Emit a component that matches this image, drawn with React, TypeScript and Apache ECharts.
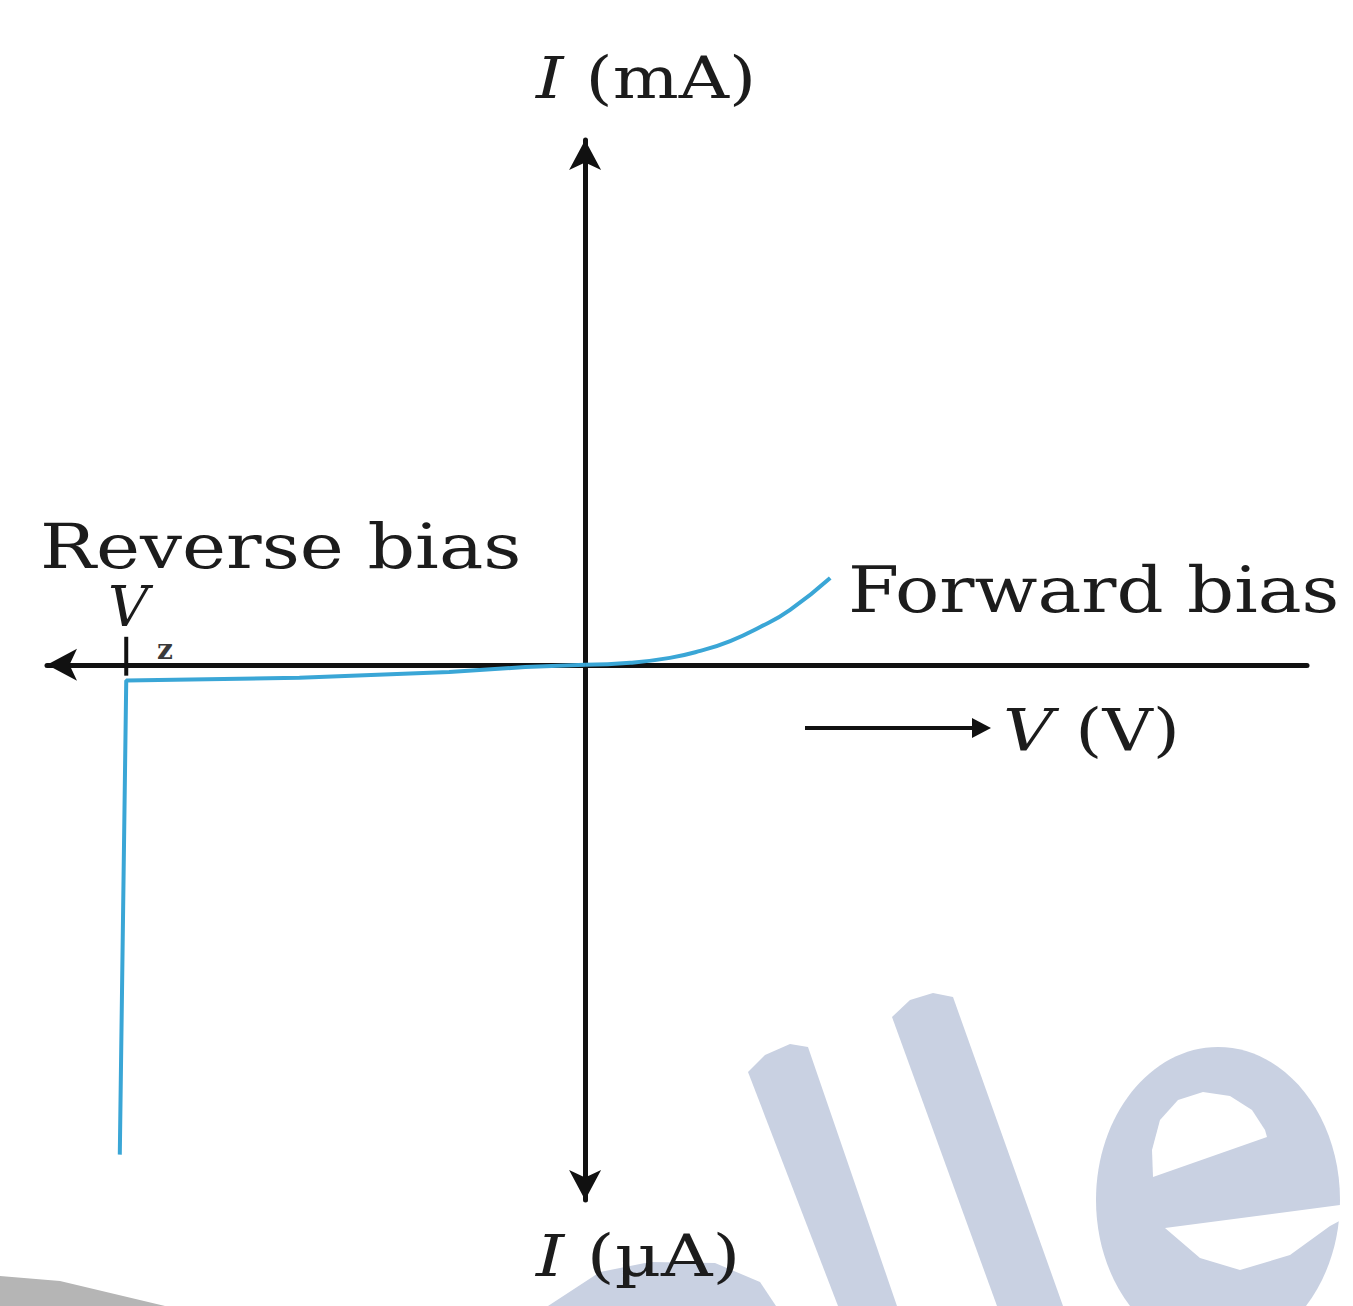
import React, { useEffect, useRef } from "react";
import * as echarts from "echarts";

// Reverse-bias branch (breakdown at Vz, small leakage current)
const reverseV = [-10.1, -9.96, -6.2, -2.95, -1.3, 0];
const reverseI = [-9.07, -0.29, -0.24, -0.13, -0.04, 0];
// Forward-bias branch
const forwardV = [0, 0.98, 1.84, 2.5, 3.15, 3.8, 4.45, 5.32];
const forwardI = [0, 0.04, 0.13, 0.26, 0.44, 0.7, 1.02, 1.61];
// Zener voltage marker
const zenerV = -9.96;
const zenerTickI = [0.52, -0.2];

const TEXT = "#1c1c1c";
const SERIF = "'DejaVu Serif', 'Liberation Serif', serif";
const WM = "#c9d1e2";

export default function App() {
  const ref = useRef<HTMLDivElement>(null);
  useEffect(() => {
    if (!ref.current) return;
    const chart = echarts.init(ref.current, null, { renderer: "svg" });
    const axisLine = (sym: string[]) => ({
      show: true,
      onZero: true,
      symbol: sym,
      symbolSize: [24, 30],
      lineStyle: { color: "#111", width: 5 },
    });
    chart.setOption({
      animation: false,
      backgroundColor: "#fff",
      grid: { left: 47, right: 46, top: 140, bottom: 106, containLabel: false },
      xAxis: {
        type: "value",
        min: -11.68,
        max: 15.67,
        axisLine: axisLine(["arrow", "none"]),
        axisTick: { show: false },
        axisLabel: { show: false },
        splitLine: { show: false },
      },
      yAxis: {
        type: "value",
        min: -9.91,
        max: 9.72,
        axisLine: axisLine(["arrow", "arrow"]),
        axisTick: { show: false },
        axisLabel: { show: false },
        splitLine: { show: false },
      },
      series: [
        {
          type: "line",
          name: "Vz tick",
          data: zenerTickI.map((i) => [zenerV, i]),
          symbol: "none",
          lineStyle: { color: "#111", width: 4 },
          z: 3,
        },
        {
          type: "line",
          name: "Reverse",
          data: reverseV.map((v, k) => [v, reverseI[k]]),
          symbol: "none",
          smooth: false,
          lineStyle: { color: "#3aa6d6", width: 4 },
          z: 4,
        },
        {
          type: "line",
          name: "Forward",
          data: forwardV.map((v, k) => [v, forwardI[k]]),
          symbol: "none",
          smooth: true,
          lineStyle: { color: "#3aa6d6", width: 4 },
          z: 4,
        },
      ],
      graphic: [
        // watermark pieces
        {
          type: "polygon",
          z: -10,
          shape: { points: [[0, 1276], [60, 1281], [165, 1306], [0, 1306]] },
          style: { fill: "#b5b5b5" },
        },
        {
          type: "polygon",
          z: -10,
          shape: { points: [[548, 1306], [600, 1272], [650, 1262], [715, 1263], [760, 1282], [776, 1306]] },
          style: { fill: WM },
        },
        {
          type: "polygon",
          z: -10,
          shape: { points: [[748, 1072], [765, 1055], [790, 1044], [808, 1047], [897, 1306], [838, 1306]] },
          style: { fill: WM },
        },
        {
          type: "polygon",
          z: -10,
          shape: { points: [[892, 1017], [910, 1000], [933, 993], [953, 997], [1063, 1306], [997, 1306]] },
          style: { fill: WM },
        },
        {
          type: "ellipse",
          z: -10,
          shape: { cx: 1218, cy: 1200, rx: 122, ry: 153 },
          style: { fill: WM },
        },
        {
          type: "polygon",
          z: -9,
          shape: {
            points: [
              [1153, 1177], [1152, 1150], [1160, 1120], [1178, 1100], [1203, 1092],
              [1230, 1096], [1252, 1110], [1265, 1130], [1267, 1137],
            ],
          },
          style: { fill: "#fff" },
        },
        {
          type: "polygon",
          z: -9,
          shape: {
            points: [
              [1165, 1228], [1340, 1205], [1360, 1200], [1360, 1210], [1330, 1226],
              [1290, 1255], [1240, 1270], [1200, 1258],
            ],
          },
          style: { fill: "#fff" },
        },
        // texts
        {
          type: "text",
          x: 536,
          y: 78,
          scaleX: 1.2,
          style: {
            text: "{i|I} (mA)",
            fontFamily: SERIF,
            fontSize: 58,
            fill: TEXT,
            verticalAlign: "middle",
            rich: { i: { fontStyle: "italic", fontFamily: SERIF, fontSize: 58, fill: TEXT } },
          },
        },
        {
          type: "text",
          x: 536,
          y: 1256,
          scaleX: 1.23,
          style: {
            text: "{i|I} (µA)",
            fontFamily: SERIF,
            fontSize: 58,
            fill: TEXT,
            verticalAlign: "middle",
            rich: { i: { fontStyle: "italic", fontFamily: SERIF, fontSize: 58, fill: TEXT } },
          },
        },
        {
          type: "text",
          x: 40,
          y: 546,
          scaleX: 1.2,
          style: { text: "Reverse bias", fontFamily: SERIF, fontSize: 62, fill: TEXT, verticalAlign: "middle" },
        },
        {
          type: "text",
          x: 108,
          y: 606,
          style: { text: "V", fontFamily: SERIF, fontStyle: "italic", fontSize: 56, fill: TEXT, verticalAlign: "middle" },
        },
        {
          type: "text",
          x: 157,
          y: 649,
          style: { text: "z", fontFamily: SERIF, fontWeight: "bold", fontSize: 28, fill: "#3a3a3a", verticalAlign: "middle" },
        },
        {
          type: "text",
          x: 848,
          y: 590,
          scaleX: 1.15,
          style: { text: "Forward bias", fontFamily: SERIF, fontSize: 64, fill: TEXT, verticalAlign: "middle" },
        },
        {
          type: "line",
          shape: { x1: 805, y1: 728, x2: 976, y2: 728 },
          style: { stroke: "#111", lineWidth: 4 },
        },
        {
          type: "polygon",
          shape: { points: [[972, 718], [991, 728], [972, 738]] },
          style: { fill: "#111" },
        },
        {
          type: "text",
          x: 1003,
          y: 730,
          scaleX: 1.2,
          style: {
            text: "{i|V} (V)",
            fontFamily: SERIF,
            fontSize: 58,
            fill: TEXT,
            verticalAlign: "middle",
            rich: { i: { fontStyle: "italic", fontFamily: SERIF, fontSize: 58, fill: TEXT } },
          },
        },
      ],
    });
    return () => chart.dispose();
  }, []);
  return (
    <div
      ref={ref}
      style={{ position: "fixed", left: 0, top: 0, width: 1353, height: 1306, background: "#fff" }}
    />
  );
}
